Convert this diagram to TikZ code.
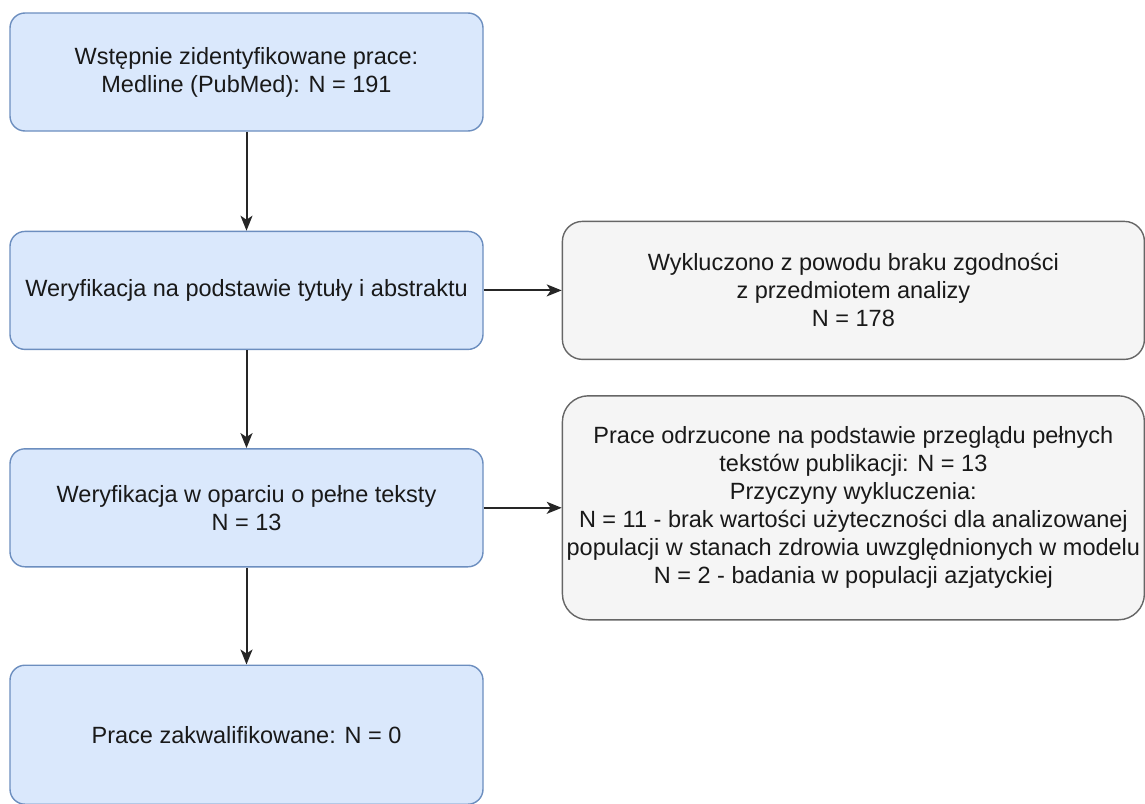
\documentclass[tikz,border=0pt]{standalone}
\usepackage{fontspec}
\setmainfont{Liberation Sans}
\usetikzlibrary{arrows.meta,positioning}
\definecolor{boxblue}{HTML}{DAE8FC}
\definecolor{lineblue}{HTML}{6C8EBF}
\definecolor{boxgrey}{HTML}{F5F5F5}
\definecolor{linegrey}{HTML}{666666}
\newcommand{\boxfont}{\fontsize{23.5pt}{28pt}\selectfont}

\begin{document}
\begin{tikzpicture}[
    node distance=99pt and 78pt,
    block/.style={rectangle, draw=lineblue, fill=boxblue, rounded corners=15pt,
                  line width=1.4pt, minimum width=473pt, minimum height=118pt,
                  inner sep=1pt, font=\boxfont, text=black!90, align=center},
    excluded/.style={rectangle, draw=linegrey, fill=boxgrey, rounded corners=20pt,
                     line width=1.4pt, minimum width=582pt, minimum height=138pt,
                     inner sep=1pt, font=\boxfont, text=black!90, align=center},
    flow/.style={->, line width=2pt, black!85},
    >={Stealth[length=15pt,width=12pt,inset=4pt]},
]
    \useasboundingbox (0,0) rectangle (1145pt,-803pt);

    % Main flow
    \node[block] (ident) at (246.5pt,-72pt) {Wstępnie zidentyfikowane prace:\\Medline (PubMed): N = 191};
    \node[block, below=of ident] (title) {Weryfikacja na podstawie tytuły i abstraktu};
    \node[block, below=98pt of title] (full) {Weryfikacja w oparciu o pełne teksty\\N = 13};
    \node[block, below=97pt of full, minimum height=139pt] (final) {Prace zakwalifikowane: N = 0};

    % Excluded
    \node[excluded, right=of title] (excl1) {Wykluczono z powodu braku zgodności\\z przedmiotem analizy\\N = 178};
    \node[excluded, right=of full, minimum height=224pt, rounded corners=26pt] (excl2) {Prace odrzucone na podstawie przeglądu pełnych\\tekstów publikacji: N = 13\\Przyczyny wykluczenia:\\N = 11 - brak wartości użyteczności dla analizowanej\\populacji w stanach zdrowia uwzględnionych w modelu\\N = 2 - badania w populacji azjatyckiej};

    % Arrows
    \draw[flow] (ident) -- (title);
    \draw[flow] (title) -- (full);
    \draw[flow] (full) -- (final);
    \draw[flow] (title) -- (excl1);
    \draw[flow] (full) -- (excl2);
\end{tikzpicture}
\end{document}
